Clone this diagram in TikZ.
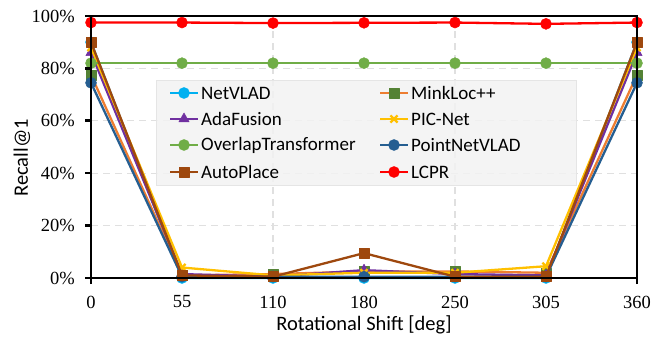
\documentclass[tikz,border=0pt]{standalone}
\usepackage{fontspec}
\setmainfont{Liberation Serif}
\newfontfamily\labelfont{Carlito}
\usetikzlibrary{plotmarks}

\definecolor{cNetVLAD}{HTML}{00B0F0}
\definecolor{cMinkLine}{HTML}{ED7D31}
\definecolor{cMinkMark}{HTML}{548235}
\definecolor{cAdaFusion}{HTML}{7030A0}
\definecolor{cPICNet}{HTML}{FFC000}
\definecolor{cOverlap}{HTML}{70AD47}
\definecolor{cPointNet}{HTML}{255E91}
\definecolor{cAutoPlace}{HTML}{9E480E}
\definecolor{cLCPR}{HTML}{FF0000}

\begin{document}
\begin{tikzpicture}[x=1pt,y=-1pt,
    gridline/.style={draw=black!12, line width=1.3pt, dash pattern=on 7pt off 5pt},
    axisline/.style={draw=black, line width=2.6pt},
    series/.style={line width=2.3pt, line join=round},
    ticklabel/.style={font=\fontsize{18.5}{20}\selectfont, inner sep=0pt},
    titlelabel/.style={font=\labelfont\fontsize{20.5}{22}\selectfont, inner sep=0pt},
    legendlabel/.style={font=\labelfont\fontsize{19}{21}\selectfont, inner sep=0pt, anchor=west},
    legendmark/.style={mark indices={2}},
    netvlad/.style={series, draw=cNetVLAD, mark=*, mark size=5.5pt,
        mark options={fill=cNetVLAD, draw=cNetVLAD, line width=0.5pt}},
    minkloc/.style={series, draw=cMinkLine, mark=square*, mark size=5pt,
        mark options={fill=cMinkMark, draw=cMinkMark, line width=0.5pt}},
    adafusion/.style={series, draw=cAdaFusion, mark=triangle*, mark size=6pt,
        mark options={fill=cAdaFusion, draw=cAdaFusion, line width=0.5pt}},
    picnet/.style={series, draw=cPICNet, mark=x, mark size=5pt,
        mark options={draw=cPICNet, line width=2.3pt}},
    overlap/.style={series, draw=cOverlap, mark=*, mark size=5.5pt,
        mark options={fill=cOverlap, draw=cOverlap, line width=0.5pt}},
    pointnet/.style={series, draw=cPointNet, mark=*, mark size=5.5pt,
        mark options={fill=cPointNet, draw=cPointNet, line width=0.5pt}},
    autoplace/.style={series, draw=cAutoPlace, mark=square*, mark size=5pt,
        mark options={fill=cAutoPlace, draw=cAutoPlace, line width=0.5pt}},
    lcpr/.style={series, draw=cLCPR, mark=*, mark size=5.5pt,
        mark options={fill=cLCPR, draw=cLCPR, line width=0.5pt}}]
    \useasboundingbox (0,0) rectangle (658,339);

    \begin{scope}[shift={(91,278)}, x=91pt, y=2.62pt]
        % Grid
        \foreach \p in {20,40,60,80}
            \draw[gridline] (0,\p) -- (6,\p);
        \foreach \c in {2,4}
            \draw[gridline] (\c,0) -- (\c,100);

        % Data
        \draw[netvlad] plot coordinates {(0,90) (1,0) (2,0) (3,0) (4,0) (5,0) (6,90)};
        \draw[minkloc] plot coordinates {(0,77.5) (1,1) (2,1.5) (3,2.5) (4,2.5) (5,2) (6,77.5)};
        \draw[adafusion] plot coordinates {(0,86) (1,1.5) (2,0.5) (3,3) (4,1.5) (5,1) (6,86)};
        \draw[picnet] plot coordinates {(0,88) (1,4) (2,1) (3,2) (4,2) (5,4.5) (6,88)};
        \draw[overlap] plot coordinates {(0,82) (1,82) (2,82) (3,82) (4,82) (5,82) (6,82)};
        \draw[pointnet] plot coordinates {(0,74.5) (1,0.5) (2,0.5) (3,0.5) (4,0.5) (5,0.5) (6,74.5)};
        \draw[autoplace] plot coordinates {(0,90) (1,1) (2,0.5) (3,9.5) (4,0.5) (5,0.5) (6,90)};
        \draw[lcpr] plot coordinates {(0,97.5) (1,97.5) (2,97.3) (3,97.4) (4,97.5) (5,97) (6,97.5)};

        % Frame and ticks
        \draw[axisline] (0,0) rectangle (6,100);
        \foreach \p in {0,20,...,100}
            \draw[axisline] ([xshift=-6pt]0,\p) -- (0,\p);
        \draw[axisline] ([yshift=-6pt]0,0) -- (0,0);
        \draw[axisline] ([yshift=-6pt]6,0) -- (6,0);

        % Tick labels
        \foreach \p in {0,20,...,100}
            \node[ticklabel, anchor=east] (yl\p) at ([xshift=-16pt]0,\p) {\p\%};
        \foreach \v [count=\i from 0] in {0,55,110,180,250,305,360}
            \node[ticklabel] (xl\v) at ([yshift=-24pt]\i,0) {\v};
    \end{scope}

    % Axis titles
    \node[titlelabel, rotate=90] (ylabel) at (22,158) {Recall@1};
    \node[titlelabel] (xlabel) at (364,325) {Rotational Shift [deg]};

    % Legend
    \draw[fill=black!5, fill opacity=0.85, draw=black!10, line width=0.8pt] (156,80) rectangle (576,185);
    \draw[netvlad, legendmark] plot coordinates {(170,93) (184,93) (198,93)};
    \node[legendlabel] (lgNetVLAD) at (201,93) {NetVLAD};
    \draw[minkloc, legendmark] plot coordinates {(380,93) (394,93) (408,93)};
    \node[legendlabel] (lgMinkLoc) at (411,93) {MinkLoc++};
    \draw[adafusion, legendmark] plot coordinates {(170,119) (184,119) (198,119)};
    \node[legendlabel] (lgAdaFusion) at (201,119) {AdaFusion};
    \draw[picnet, legendmark] plot coordinates {(380,119) (394,119) (408,119)};
    \node[legendlabel] (lgPICNet) at (411,119) {PIC-Net};
    \draw[overlap, legendmark] plot coordinates {(170,145) (184,145) (198,145)};
    \node[legendlabel] (lgOverlap) at (201,145) {OverlapTransformer};
    \draw[pointnet, legendmark] plot coordinates {(380,145) (394,145) (408,145)};
    \node[legendlabel] (lgPointNet) at (411,145) {PointNetVLAD};
    \draw[autoplace, legendmark] plot coordinates {(170,172) (184,172) (198,172)};
    \node[legendlabel] (lgAutoPlace) at (201,172) {AutoPlace};
    \draw[lcpr, legendmark] plot coordinates {(380,172) (394,172) (408,172)};
    \node[legendlabel] (lgLCPR) at (411,172) {LCPR};
\end{tikzpicture}
\end{document}
